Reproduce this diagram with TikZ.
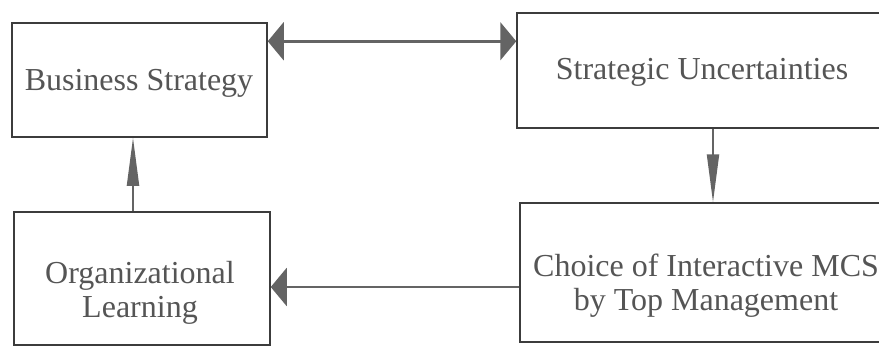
\documentclass[tikz,border=0pt]{standalone}
\usepackage{fontspec}
\setmainfont{Liberation Serif}
\usetikzlibrary{arrows.meta}
\definecolor{ink}{RGB}{60,60,60}
\definecolor{txt}{RGB}{85,85,85}
\definecolor{arrowgray}{RGB}{100,100,100}
\begin{document}
\begin{tikzpicture}[x=1pt,y=-1pt,
  box/.style={draw=ink,line width=1.5pt,inner sep=0pt,rectangle},
  lbl/.style={text=txt,font=\fontsize{32}{34}\selectfont,align=center,inner sep=0pt},
  harr/.style={draw=arrowgray,line width=2.5pt,-{Triangle[length=16pt,width=38pt]},fill=arrowgray},
  hdarr/.style={draw=arrowgray,line width=2.5pt,{Triangle[length=16pt,width=38pt]}-{Triangle[length=16pt,width=38pt]},fill=arrowgray},
  varr/.style={draw=arrowgray,line width=2pt,-{Triangle[length=48pt,width=12pt]},fill=arrowgray}]
\useasboundingbox (0,0) rectangle (879,349);
\clip (0,0) rectangle (879,349);
\fill[white] (0,0) rectangle (879,349);
\node[box,minimum width=255pt,minimum height=114pt] (BS) at (139.5,80) {};
\node[box,minimum width=373pt,minimum height=115pt] (SU) at (703.5,70.5) {};
\node[box,minimum width=256pt,minimum height=133pt] (OL) at (142,278.5) {};
\node[box,minimum width=375pt,minimum height=139pt] (CH) at (707.5,272.5) {};
\node[lbl] (tBS) at (139,83) {Business Strategy};
\node[lbl] (tSU) at (702,72) {Strategic Uncertainties};
\node[lbl] (tOL) at (140,293) {Organizational\\Learning};
\node[lbl] (tCH) at (706,286) {Choice of Interactive MCS\\by Top Management};
\draw[hdarr] ([yshift=-19pt]BS.north east) -- ([yshift=-19pt]BS.north east -| SU.west);
\draw[varr] ([xshift=9.5pt]SU.south) -- ([xshift=9.5pt]SU.south |- CH.north);
\draw[harr] ([yshift=-14.5pt]CH.west) -- ([yshift=-14.5pt]CH.west -| OL.east);
\draw[varr] ([xshift=-9pt]OL.north) -- ([xshift=-9pt]OL.north |- BS.south);
\end{tikzpicture}
\end{document}
